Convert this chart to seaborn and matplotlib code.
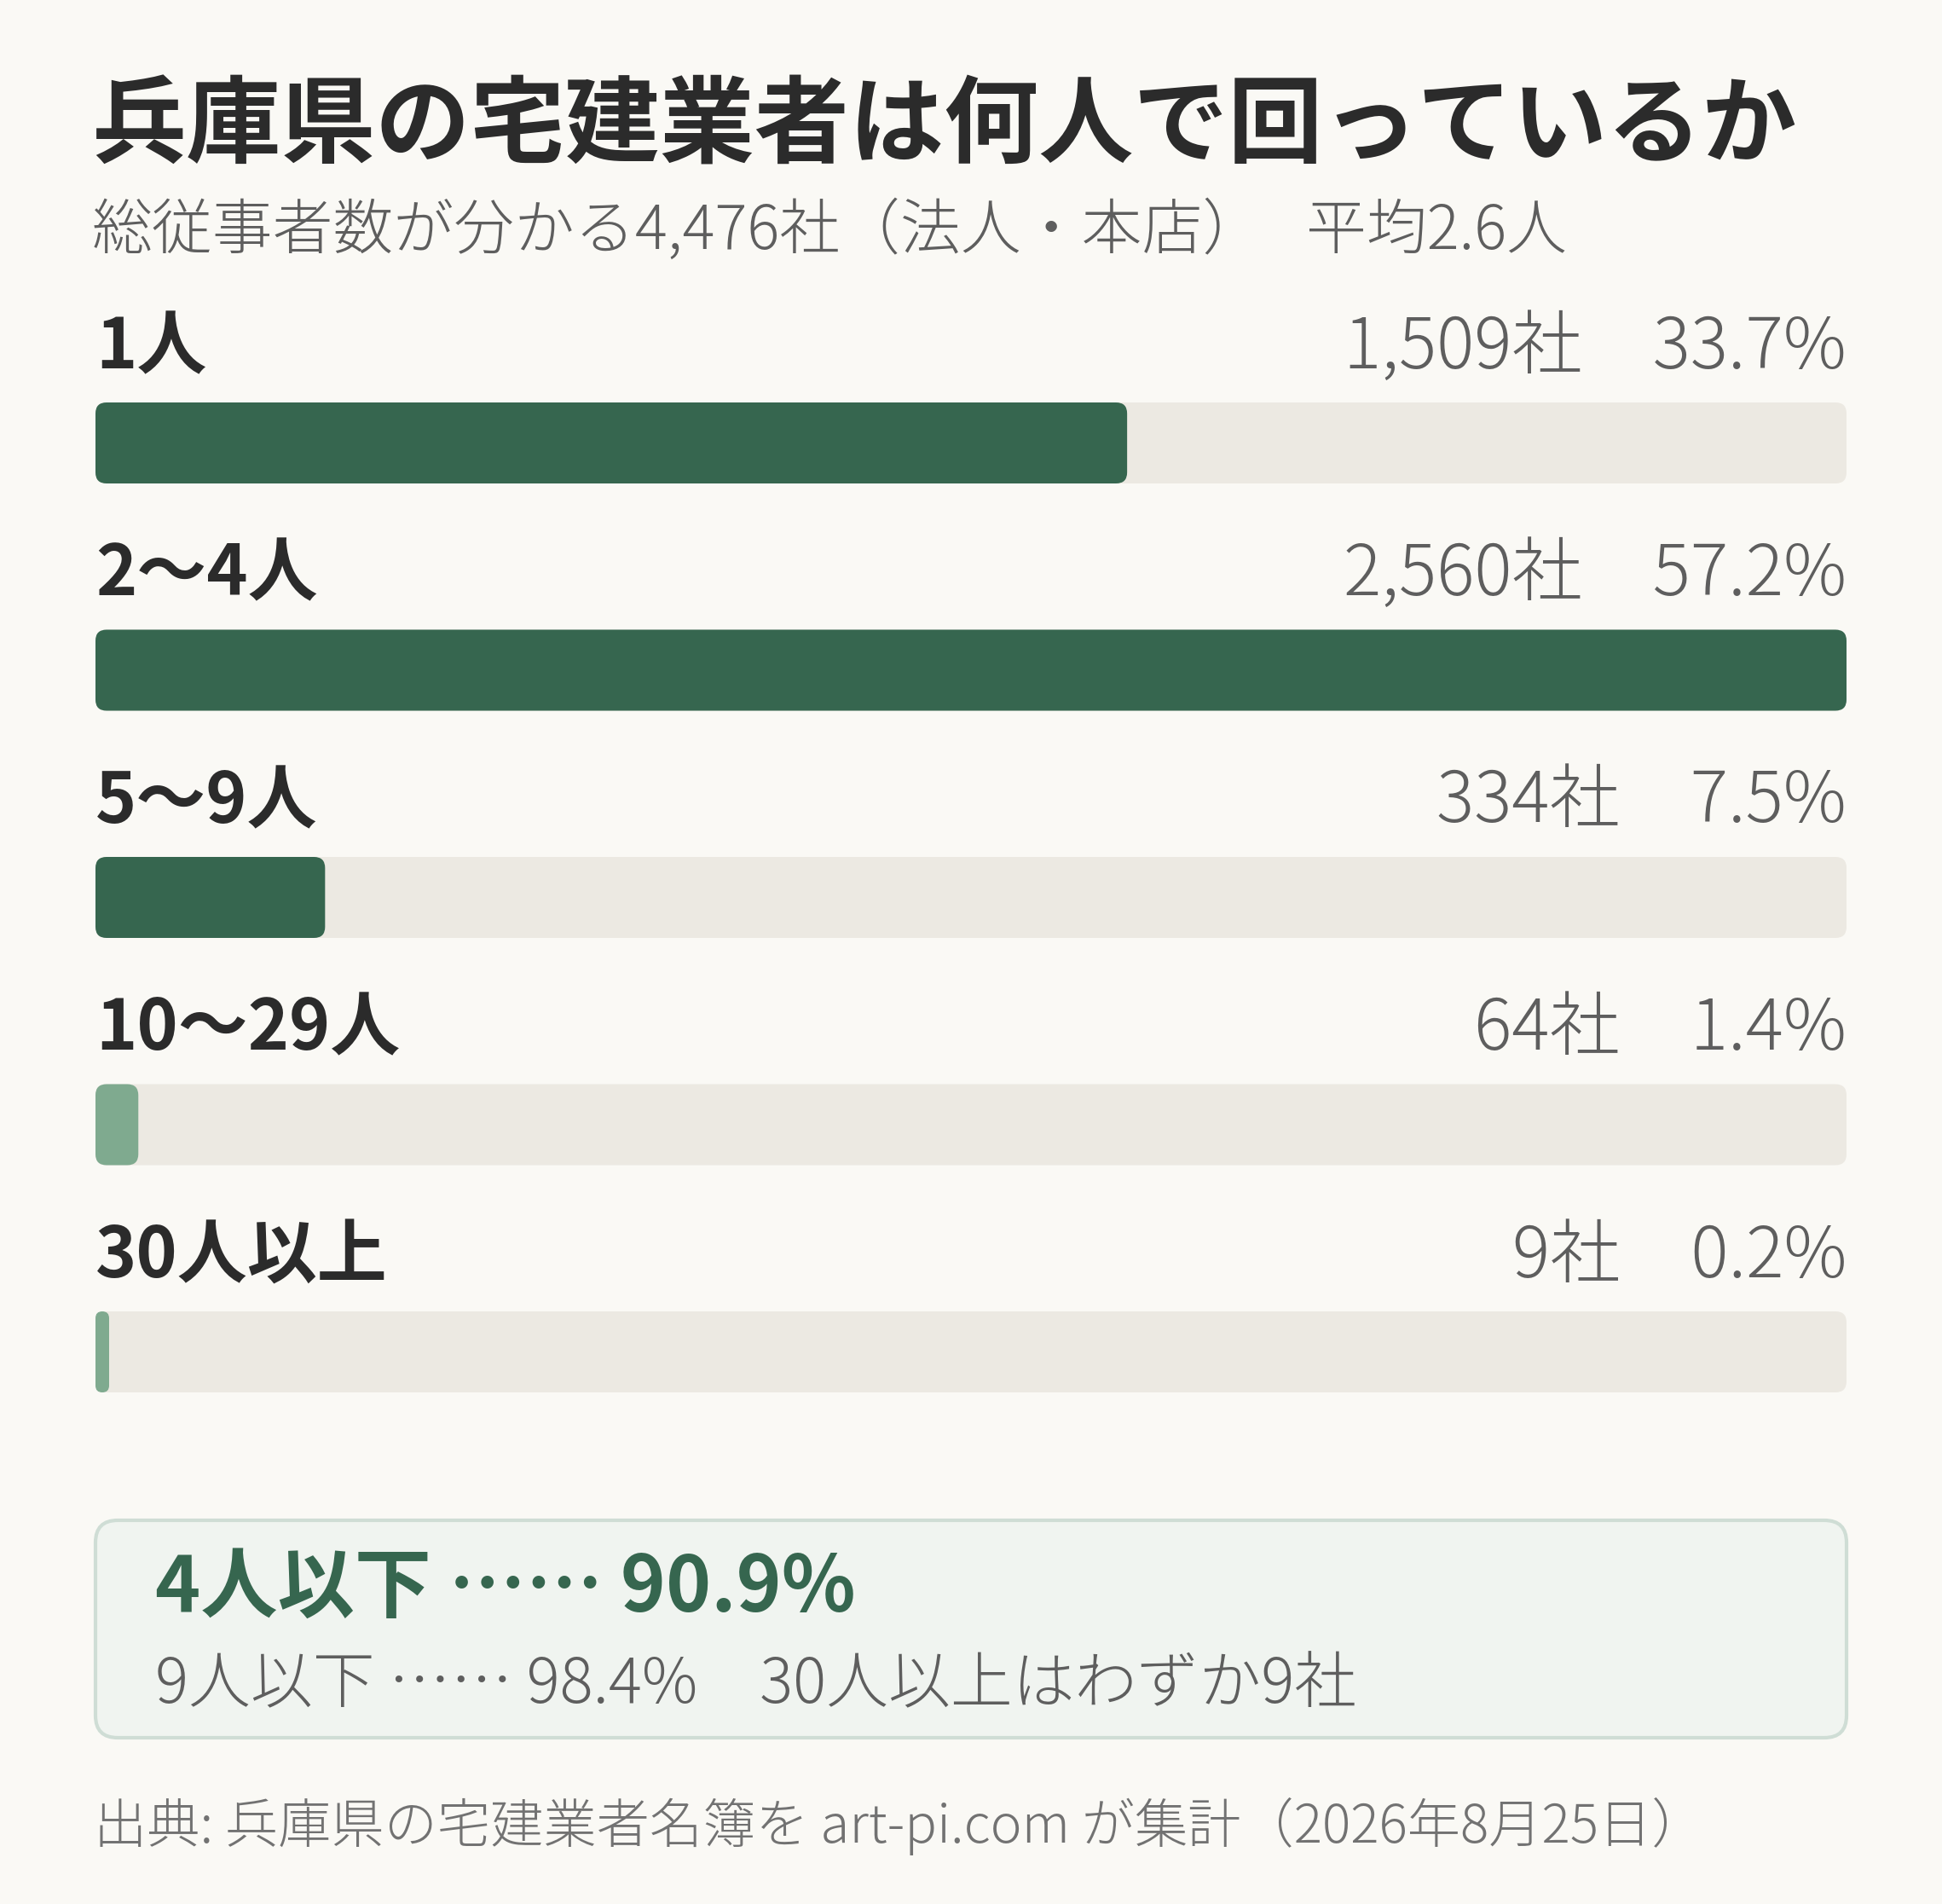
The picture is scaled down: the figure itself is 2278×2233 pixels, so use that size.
import matplotlib
matplotlib.use("Agg")
import matplotlib.pyplot as plt
from matplotlib.patches import FancyBboxPatch
import seaborn as sns
import pandas as pd

# ---- data ----
categories = ["1人", "2〜4人", "5〜9人", "10〜29人", "30人以上"]
counts = [1509, 2560, 334, 64, 9]
percents = [33.7, 57.2, 7.5, 1.4, 0.2]
bar_colors = ["#36664f", "#36664f", "#36664f", "#7faa8f", "#7faa8f"]
total_companies = 4476
average_staff = 2.6

title = "兵庫県の宅建業者は何人で回っているか"
subtitle_left = f"総従事者数が分かる{total_companies:,}社（法人・本店）"
subtitle_right = f"平均{average_staff}人"
summary_main = "4人以下 …… 90.9%"
summary_sub = "9人以下 …… 98.4%　30人以上はわずか9社"
footer = "出典: 兵庫県の宅建業者名簿を art-pi.com が集計（2026年8月25日）"

# ---- style ----
BG = "#faf9f5"
TRACK = "#ece9e2"
DARK = "#2b2b2b"
GRAY = "#5e5e5e"
FOOT = "#727272"
GREEN = "#36664f"

sns.set_theme(style="white")
FAM = ["Noto Sans CJK JP", "DejaVu Sans"]
plt.rcParams["font.family"] = FAM

W, H = 2278, 2233
fig = plt.figure(figsize=(W / 100, H / 100), dpi=100, facecolor=BG)

# overlay axes in pixel coordinates for titles / box / footer
ov = fig.add_axes([0, 0, 1, 1], facecolor="none")
ov.set_xlim(0, W)
ov.set_ylim(H, 0)
ov.axis("off")

# bar axes
px_left, px_right = 112, 2166
px_top, px_bot = 300, 1700
pitch = 266.5
c0 = 519.5
ax = fig.add_axes([px_left / W, 1 - px_bot / H, (px_right - px_left) / W, (px_bot - px_top) / H],
                  facecolor="none")

xmax = max(percents)
bar_h = 95 / pitch
df = pd.DataFrame({"cat": categories, "pct": percents,
                   "track": [xmax] * len(categories)})
min_w = 16 / ((px_right - px_left) / xmax)
df["shown"] = [max(p, min_w) for p in percents]

sns.barplot(data=df, x="track", y="cat", orient="h", color=TRACK,
            width=bar_h, ax=ax, saturation=1)
sns.barplot(data=df, x="shown", y="cat", hue="cat", orient="h",
            palette=dict(zip(categories, bar_colors)), legend=False,
            width=bar_h, ax=ax, saturation=1)

ytop = -(c0 - px_top) / pitch
ybot = ytop + (px_bot - px_top) / pitch
ax.set_xlim(0, xmax)
ax.set_ylim(ybot, ytop)
ax.axis("off")

# replace rectangles with rounded versions
xs_per_px = xmax / (px_right - px_left)
ys_per_px = 1 / pitch
aspect = ys_per_px / xs_per_px
r_px = 13
patches = list(ax.patches)
for p in patches:
    x, y = p.get_x(), p.get_y()
    w, h = p.get_width(), p.get_height()
    fc = p.get_facecolor()
    z = p.get_zorder()
    p.remove()
    r = min(r_px * xs_per_px, w / 2)
    fb = FancyBboxPatch((x, y), w, h,
                        boxstyle=f"round,pad=0,rounding_size={r}",
                        mutation_aspect=aspect, fc=fc, ec="none", zorder=z)
    ax.add_patch(fb)

label_off = -111 / pitch
for i, (cat, n, pct) in enumerate(zip(categories, counts, percents)):
    ax.text(0, i + label_off, cat, ha="left", va="center", fontsize=59,
            fontweight="bold", color=DARK, family=FAM)
    ax.text(xmax, i + label_off, f"{n:,}社　{pct}%", ha="right", va="center",
            fontsize=59.5, fontweight="light", color=GRAY, family=FAM)

# titles
ov.text(107, 150, title, ha="left", va="center", fontsize=80, fontweight="bold",
        color=DARK, family=FAM)
ov.text(108, 272, subtitle_left, ha="left", va="center", fontsize=51, fontweight="light",
        color=GRAY, family=FAM)
ov.text(1532, 272, subtitle_right, ha="left", va="center", fontsize=51, fontweight="light",
        color=GRAY, family=FAM)

# summary box
box = FancyBboxPatch((112, 1783), 2054, 255, boxstyle="round,pad=0,rounding_size=26",
                     fc="#f0f4f0", ec="#cfddd5", lw=3)
ov.add_patch(box)
ov.text(182, 1863, summary_main, ha="left", va="center", fontsize=65,
        fontweight="bold", color=GREEN, family=FAM)
ov.text(182, 1977, summary_sub, ha="left", va="center", fontsize=52.5,
        fontweight="light", color=GRAY, family=FAM)

# footer
ov.text(110, 2142, footer, ha="left", va="center", fontsize=44.8, fontweight="light",
        color=FOOT, family=FAM)

fig.savefig("out.png", dpi=100, facecolor=BG)
